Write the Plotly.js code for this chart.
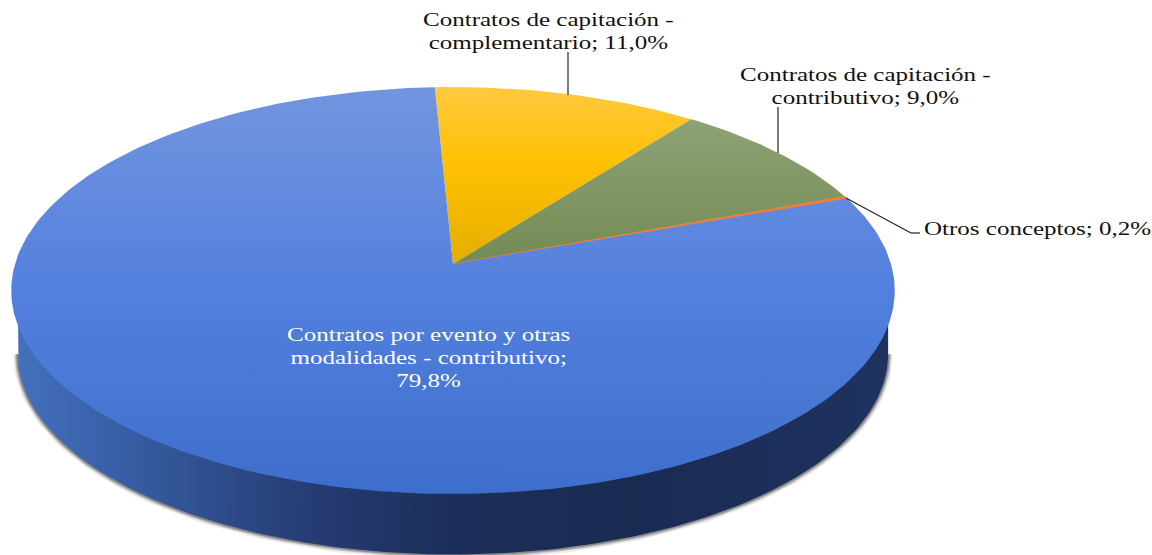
<!DOCTYPE html>
<html><head><meta charset="utf-8">
<script src="https://cdn.plot.ly/plotly-3.0.1.min.js"></script>
<style>
html,body{margin:0;padding:0;background:#fff}
#chart{width:1152px;height:555px}
.annotation-text{transform-box:fill-box;transform-origin:center;transform:scaleX(1.39)}
</style></head><body><div id="chart"></div>
<script>
const labels = ["Contratos de capitación - complementario", "Contratos de capitación - contributivo", "Otros conceptos", "Contratos por evento y otras modalidades - contributivo"];
const values = [11.0, 9.0, 0.2, 79.8];
const topColors = [
  [[0,"#ffc93f"],[0.2,"#ffc000"],[0.43,"#e5ae00"],[1,"#e5ae00"]],
  [[0,"#94a97c"],[0.1,"#8ca173"],[0.43,"#748b55"],[1,"#748b55"]],
  [[0,"#ed7d31"],[1,"#ed7d31"]],
  [[0,"#7395df"],[0.5,"#5380de"],[1,"#3e6ecb"]]
];
const wallStops = [[0,"#4470bd"],[0.1,"#3a62ab"],[0.22,"#2f4f8f"],[0.33,"#263d75"],[0.5,"#1c2f5a"],[0.7,"#1a2b52"],[1,"#1f3360"]];

// Perspective view of a flat disc, in page pixels
const view = {cx:453, apexY:264, R:438, c:200, k:0.1302, startDeg:-2.7, wallDy:64, wallScale:0.985};
function project(deg, scale, dy){
  const t = deg*Math.PI/180, x = Math.sin(t), y = Math.cos(t);
  const d = 1 + view.k*y;
  return [view.cx + scale*view.R*x/d, view.apexY + dy - scale*view.c*y/d];
}
function arc(a0, a1, scale, dy){
  const n = Math.max(2, Math.ceil(Math.abs(a1-a0))), pts = [];
  for(let i=0;i<=n;i++) pts.push(project(a0+(a1-a0)*i/n, scale, dy));
  return pts;
}
const total = values.reduce((a,b)=>a+b,0);
const traces = [];

// lower rim: from right tangent round the front to the left tangent
const tan = 180 - Math.asin(Math.sqrt(1-view.k*view.k))*180/Math.PI;
const rimA = tan, rimB = 360 - tan;

// soft shadow under the wall
[[10,0.08],[7,0.14],[5,0.2],[3,0.3]].forEach(([w,op])=>{
  const p = arc(rimA, rimB, view.wallScale, view.wallDy);
  traces.push({type:"scatter",mode:"lines",x:p.map(q=>q[0]),y:p.map(q=>q[1]),
    line:{color:"#333333",width:w,shape:"linear"},opacity:op,hoverinfo:"skip",showlegend:false,name:"sombra"});
});

// side wall (its upper edge tucks under the top face)
{
  const top = arc(rimA, rimB, 0.985, 0), bot = arc(rimB, rimA, view.wallScale, view.wallDy);
  const p = top.concat(bot); p.push(top[0]);
  traces.push({type:"scatter",mode:"lines",fill:"toself",x:p.map(q=>q[0]),y:p.map(q=>q[1]),
    line:{width:0},fillgradient:{type:"horizontal",colorscale:wallStops,start:12,stop:892},
    hoverinfo:"skip",showlegend:false,name:"pared"});
}

// slices
let a = view.startDeg;
values.forEach((v,i)=>{
  const b = a + 360*v/total;
  const p = [project(0,0,0)].concat(arc(a,b,1,0)); p.push(p[0]);
  traces.push({type:"scatter",mode:"lines",fill:"toself",x:p.map(q=>q[0]),y:p.map(q=>q[1]),
    line:v<1?{width:1,color:"#ed7d31"}:{width:0},
    fillgradient:{type:"vertical",colorscale:topColors[i],start:87,stop:494},
    name:labels[i],text:labels[i]+"; "+v.toFixed(1).replace(".",",")+"%",hoverinfo:"text",showlegend:false});
  a = b;
});

const pct = v => v.toFixed(1).replace(".",",")+"%";
const font = {family:"Liberation Serif, Times New Roman, serif",size:18,color:"#111111"};
const annotations = [
  {x:548,y:31,text:"Contratos de capitación -<br>complementario; "+pct(values[0])},
  {x:865,y:86,text:"Contratos de capitación -<br>contributivo; "+pct(values[1])},
  {x:1037,y:229,text:"Otros conceptos; "+pct(values[2])},
  {x:428,y:358,text:"Contratos por evento y otras<br>modalidades - contributivo;<br>"+pct(values[3]),color:"#ffffff"}
].map(o=>({x:o.x,y:o.y,text:o.text,xref:"x",yref:"y",showarrow:false,xanchor:"center",yanchor:"middle",align:"center",
  font:Object.assign({},font,o.color?{color:o.color}:{})}));

const leader = {type:"line",xref:"x",yref:"y",line:{color:"#222222",width:1.2}};
const shapes = [
  Object.assign({x0:568,y0:52,x1:568,y1:95},leader),
  Object.assign({x0:778,y0:107,x1:778,y1:153},leader),
  Object.assign({x0:846,y0:198,x1:911,y1:233},leader),
  Object.assign({x0:911,y0:233,x1:920,y1:233},leader)
];

Plotly.newPlot("chart",traces,{
  width:1152,height:555,margin:{l:0,r:0,t:0,b:0},paper_bgcolor:"#ffffff",plot_bgcolor:"#ffffff",
  xaxis:{range:[0,1152],visible:false,fixedrange:true},
  yaxis:{range:[555,0],visible:false,fixedrange:true},
  showlegend:false,annotations,shapes
},{displayModeBar:false});
</script></body></html>
